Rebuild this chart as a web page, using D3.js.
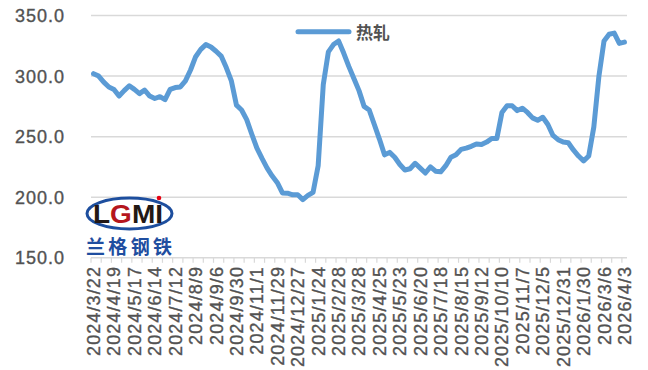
<!DOCTYPE html>
<html>
<head>
<meta charset="utf-8">
<script src="https://cdn.jsdelivr.net/npm/d3@7"></script>
<style>
  html, body { margin: 0; padding: 0; background: #fff; }
  svg { display: block; }
</style>
</head>
<body>
<div id="chart"></div>
<script>
// weekly hot-rolled price index
const values = [302, 300, 295, 291, 289, 283.5, 288, 292, 289, 285.5, 288.5, 283.5, 281.5, 283, 280.5, 289, 290.5, 291, 296, 305, 316, 322, 326,
  324, 320.5, 316.5, 307, 296, 276, 272, 264, 252, 240.5, 232, 224, 217.5, 212, 203.5, 203.3, 202, 202, 198,
  201.5, 204, 226, 293, 320, 326, 329, 319, 308, 298, 288, 275, 272, 260, 248, 235, 237, 233, 227, 222.5,
  223.5, 228, 224, 220, 225, 221.5, 221, 226, 233, 235, 239.5, 240.5, 242, 244, 243.5, 245.5, 248.5, 248.5, 270, 275.5, 275.5, 271.5, 273.5,
  270, 265.5, 263.5, 266, 260, 251, 247.5, 245.5, 245, 239, 234, 230, 234, 258, 300, 329, 334.5, 335.5, 327, 328];

// one label every 4th week
const tickLabels = ["2024/3/22", "2024/4/19", "2024/5/17", "2024/6/14", "2024/7/12", "2024/8/9", "2024/9/6", "2024/9/30",
  "2024/11/1", "2024/11/29", "2024/12/27", "2025/1/24", "2025/2/28", "2025/3/28", "2025/4/25", "2025/5/23",
  "2025/6/20", "2025/7/18", "2025/8/15", "2025/9/12", "2025/10/10", "2025/11/7", "2025/12/5", "2025/12/31",
  "2026/1/30", "2026/3/6", "2026/4/3"];
const yTicks = [150, 200, 250, 300, 350];
const seriesName = "热轧";

const width = 648, height = 370;
const margin = { left: 91, right: 627, top: 15.5, bottom: 257.8 };

const svg = d3.select("#chart").append("svg")
  .attr("width", width)
  .attr("height", height);

const x = d3.scaleBand().domain(d3.range(values.length)).range([margin.left, margin.right]);
const y = d3.scaleLinear().domain([150, 350]).range([margin.bottom, margin.top]);
const cx = i => x(i) + x.bandwidth() / 2;

// gridlines
svg.append("g")
  .selectAll("line")
  .data(yTicks.filter(d => d > 150))
  .enter().append("line")
  .attr("x1", margin.left).attr("x2", margin.right)
  .attr("y1", d => y(d)).attr("y2", d => y(d))
  .attr("stroke", "#d9d9d9")
  .attr("stroke-width", 1.5);

// y labels
svg.append("g")
  .selectAll("text")
  .data(yTicks)
  .enter().append("text")
  .attr("x", 65)
  .attr("y", d => y(d))
  .attr("dy", "0.36em")
  .attr("text-anchor", "end")
  .attr("font-family", "Liberation Sans, Arial, sans-serif")
  .attr("font-size", 18)
  .attr("letter-spacing", 1)
  .attr("fill", "#525252")
  .attr("stroke", "#525252")
  .attr("stroke-width", 0.35)
  .text(d => d3.format(".1f")(d));

// x axis line and tick marks (every 2 weeks, on the category edges)
svg.append("line")
  .attr("x1", margin.left).attr("x2", margin.right)
  .attr("y1", margin.bottom).attr("y2", margin.bottom)
  .attr("stroke", "#d9d9d9")
  .attr("stroke-width", 1.5);

const edges = d3.range(0, values.length + 1, 2).map(k => margin.left + k * x.step());
svg.append("g")
  .selectAll("line")
  .data(edges)
  .enter().append("line")
  .attr("x1", d => d).attr("x2", d => d)
  .attr("y1", margin.bottom).attr("y2", margin.bottom + 5)
  .attr("stroke", "#d9d9d9")
  .attr("stroke-width", 1.2);

// x labels, rotated
svg.append("g")
  .selectAll("text")
  .data(tickLabels)
  .enter().append("text")
  .attr("transform", (d, i) => `translate(${cx(i * 4)},266) rotate(-90)`)
  .attr("dy", "0.36em")
  .attr("text-anchor", "end")
  .attr("font-family", "Liberation Sans, Arial, sans-serif")
  .attr("font-size", 18)
  .attr("letter-spacing", 1.1)
  .attr("fill", "#525252")
  .attr("stroke", "#525252")
  .attr("stroke-width", 0.35)
  .text(d => d);

// watermark logo
const logo = svg.append("g");
logo.append("ellipse")
  .attr("cx", 129.5).attr("cy", 213.5)
  .attr("rx", 42.5).attr("ry", 15.5)
  .attr("fill", "#fff")
  .attr("stroke", "#1d4e9e")
  .attr("stroke-width", 3);
const lg = logo.append("text")
  .attr("x", 93).attr("y", 223)
  .attr("font-family", "Liberation Sans, Arial, sans-serif")
  .attr("font-size", 26)
  .attr("font-weight", "bold")
  .attr("textLength", 70)
  .attr("lengthAdjust", "spacingAndGlyphs")
  .attr("fill", "#231815");
lg.append("tspan").text("L");
lg.append("tspan").attr("fill", "#b5161d").text("G");
lg.append("tspan").text("MI");
logo.append("circle").attr("cx", 159).attr("cy", 198).attr("r", 2.3).attr("fill", "#e60012");
logo.append("text")
  .attr("x", 86).attr("y", 254)
  .attr("font-family", "Noto Sans CJK SC, sans-serif")
  .attr("font-size", 19)
  .attr("font-weight", "bold")
  .attr("textLength", 86)
  .attr("fill", "#1f4ea0")
  .text("兰格钢铁");

// series line
const line = d3.line()
  .x((d, i) => cx(i))
  .y(d => y(d));

svg.append("path")
  .datum(values)
  .attr("d", line)
  .attr("fill", "none")
  .attr("stroke", "#5b9bd5")
  .attr("stroke-width", 5)
  .attr("stroke-linejoin", "round")
  .attr("stroke-linecap", "round");

// legend
svg.append("line")
  .attr("x1", 298).attr("x2", 349)
  .attr("y1", 31.7).attr("y2", 31.7)
  .attr("stroke", "#5b9bd5")
  .attr("stroke-width", 5)
  .attr("stroke-linecap", "round");
svg.append("text")
  .attr("x", 356)
  .attr("y", 33)
  .attr("dy", "0.35em")
  .attr("font-family", "Noto Sans CJK SC, sans-serif")
  .attr("font-size", 17)
  .attr("font-weight", "bold")
  .attr("fill", "#525252")
  .text(seriesName);
</script>
</body>
</html>
